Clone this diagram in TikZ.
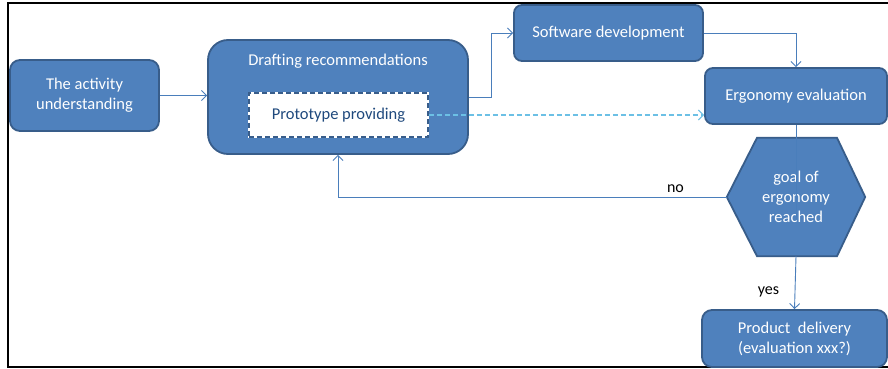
\documentclass[tikz,border=0pt]{standalone}
\usepackage{fontspec}
\setmainfont{Carlito}
\usetikzlibrary{arrows.meta,calc,backgrounds}
\definecolor{boxfill}{HTML}{4F81BD}
\definecolor{boxline}{HTML}{385D8A}
\definecolor{arrowc}{HTML}{4A7EBB}
\definecolor{lightarrow}{HTML}{6CC0E5}
\definecolor{prototext}{HTML}{1F497D}
\begin{document}
\begin{tikzpicture}[x=1pt,y=-1pt,
  txt/.style={font=\fontsize{16.5}{20}\selectfont},
  box/.style={draw=boxline, line width=1.8pt, fill=boxfill, text=white,
    rounded corners=#1, align=center, inner sep=0pt, txt},
  box/.default=9pt,
  protobox/.style={draw=boxline, line width=1.8pt, fill=white, text=prototext,
    dash pattern=on 5pt off 3pt, preaction={draw=white, line width=1.8pt, solid},
    align=center, inner sep=0pt, txt},
  hexshape/.style={draw=boxline, line width=1.8pt, fill=boxfill, line join=miter},
  conn/.style={draw=arrowc, line width=0.9pt, -{Straight Barb[length=5pt,width=10pt]}},
  lbl/.style={font=\fontsize{16}{19}\selectfont, text=black}]
\useasboundingbox (0,0) rectangle (888,369);
\draw[line width=1.6pt] (888,3) -- (8,3) -- (8,367) -- (888,367);

\node[box=10pt, minimum width=149pt, minimum height=71pt] (act) at (84.5,95.5) {The activity\\understanding};
\node[box=20pt, minimum width=260pt, minimum height=114pt,
  label={[anchor=center, yshift=-22pt, text=white, txt]north:Drafting recommendations}] (draft) at (338,97) {};
\node[protobox, minimum width=179pt, minimum height=44pt] (proto) at (338.5,115) {Prototype providing};
\node[box=8pt, minimum width=189pt, minimum height=56pt] (soft) at (608.5,33) {Software development};
\node[box=8pt, minimum width=182pt, minimum height=56pt] (ergo) at (796,96) {Ergonomy evaluation};
\node[align=center, text=white, inner sep=0pt, minimum width=138pt, minimum height=118pt,
  txt] (hex) at (796,197) {goal of\\ergonomy\\reached};
\node[box=10pt, minimum width=185pt, minimum height=57pt] (prod) at (794.5,338.5) {Product\ \ delivery\\(evaluation xxx?)};

\begin{scope}[on background layer]
  \fill[white] (0,0) rectangle (888,369);
  \draw[hexshape] (hex.west) -- ($(hex.north)+(-39,0)$) -- ($(hex.north)+(41,0)$) -- (hex.east)
     -- ($(hex.south)+(41,0)$) -- ($(hex.south)+(-39,0)$) -- cycle;
\end{scope}

\draw[conn] (act.east) -- (act.east -| draft.west);
\draw[conn] (draft.east) -- ++(23,0) |- (soft.west);
\draw[conn] (soft.east) -| (ergo.north);
\draw[conn, draw=lightarrow, line width=1.1pt, dash pattern=on 5pt off 3pt] (proto.east) -- (proto.east -| ergo.west);
\draw[draw=arrowc, line width=0.8pt] (ergo.south) -- ($(hex.center)+(0,22)$);
\draw[conn] (hex.south) -- node[pos=0.68, left=12pt, lbl]{yes} (prod.north);
\draw[conn] (hex.west) -| node[pos=0.066, above=1pt, lbl]{no} (draft.south);
\end{tikzpicture}
\end{document}
